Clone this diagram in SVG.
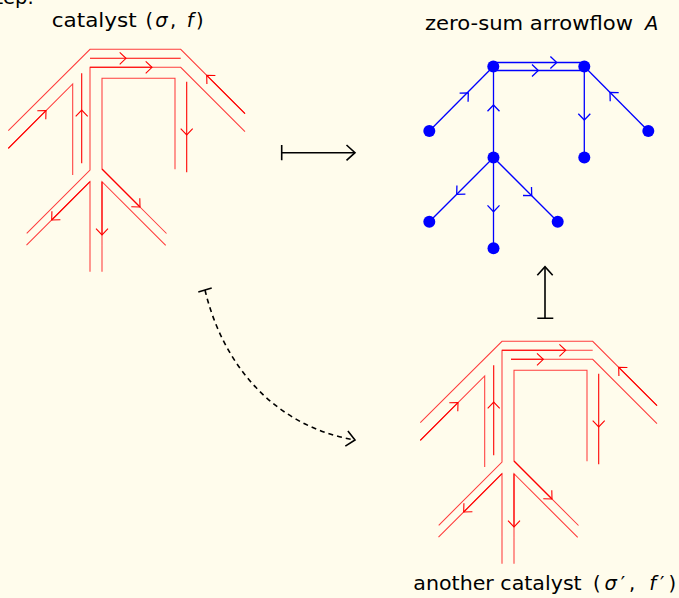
<svg xmlns="http://www.w3.org/2000/svg" xmlns:xlink="http://www.w3.org/1999/xlink" width="679" height="598" viewBox="0 0 679 598">
<style>
.bd{fill:none;stroke:#ff3c3c;stroke-width:1.05}
.st{fill:none;stroke:#ff0000;stroke-width:1.1}
.bl{fill:none;stroke:#0000ff;stroke-width:1.3}
.nd{fill:#0000ff}
.bk{fill:none;stroke:#000;stroke-width:1.6}
.t{font-family:"DejaVu Sans",sans-serif;font-size:19.5px;fill:#000}
.i{font-style:italic}
</style>
<defs>
<path id="ah" d="M-6.3,-6 L0,0 L-6.3,6" fill="none"/>
<path id="bh" d="M-8.5,-7.7 L0,0 L-8.5,7.7" fill="none"/>
</defs>
<rect width="679" height="598" fill="#fffcec"/>

<text class="t" x="-17" y="3.5">Step.</text>

<g id="catalyst1">
<path class="bd" d="M8.3,130.7 L90,49.3 L180.7,49.3 L245,113.6"/>
<path class="bd" d="M8.3,148.3 L72.7,84 L72.7,175"/>
<path class="bd" d="M26.7,233.3 L90,170 L90,67.3 L180.7,67.3 L245,131.6"/>
<path class="bd" d="M166.5,233.5 L102,169 L102,78.3 L175,78.3 L175,169.3"/>
<path class="bd" d="M26.5,245.2 L90,181.7 L90,271.7"/>
<path class="bd" d="M102,271.7 L102,181.7 L165.7,245.4"/>
<g class="st">
<path d="M8.3,148.3 L46,110.6"/><use xlink:href="#ah" transform="translate(46,110.6) rotate(-45)"/>
<path d="M81.7,163.3 L81.7,73.3"/><use xlink:href="#ah" transform="translate(81.7,110) rotate(-90)"/>
<path d="M90,58.3 L180.7,58.3"/><use xlink:href="#ah" transform="translate(126,58.3)"/>
<path d="M90,67.3 L152,67.3"/><use xlink:href="#ah" transform="translate(152,67.3)"/>
<path d="M245,113.6 L206.7,75.3"/><use xlink:href="#ah" transform="translate(206.7,75.3) rotate(-135)"/>
<path d="M186.7,81.7 L186.7,172.3"/><use xlink:href="#ah" transform="translate(186.7,135) rotate(90)"/>
<path d="M90,181.7 L51.7,220"/><use xlink:href="#ah" transform="translate(51.7,220) rotate(135)"/>
<path d="M102,169 L140,207"/><use xlink:href="#ah" transform="translate(140,207) rotate(45)"/>
<path d="M102,181.7 L102,235"/><use xlink:href="#ah" transform="translate(102,235) rotate(90)"/>
</g>
<text class="t" x="51.7" y="26.7" textLength="85" lengthAdjust="spacingAndGlyphs">catalyst</text>
<text class="t" x="145.5" y="26.7" textLength="58" lengthAdjust="spacing">(<tspan class="i">σ</tspan>, <tspan class="i">f</tspan>)</text>
</g>

<g id="catalyst2">
<g transform="translate(412,292)">
<path class="bd" d="M8.3,130.7 L90,49.3 L180.7,49.3 L245,113.6"/>
<path class="bd" d="M8.3,148.3 L72.7,84 L72.7,175"/>
<path class="bd" d="M26.7,233.3 L90,170 L90,58.3 L180.7,58.3"/>
<path class="bd" d="M99,67.3 L180.7,67.3 L245,131.6"/>
<path class="bd" d="M166.5,233.5 L102,169 L102,78.3 L175,78.3 L175,169.3"/>
<path class="bd" d="M26.5,245.2 L90,181.7 L90,271.7"/>
<path class="bd" d="M102,271.7 L102,181.7 L165.7,245.4"/>
<g class="st">
<path d="M8.3,148.3 L46,110.6"/><use xlink:href="#ah" transform="translate(46,110.6) rotate(-45)"/>
<path d="M81.7,163.3 L81.7,73.3"/><use xlink:href="#ah" transform="translate(81.7,110) rotate(-90)"/>
<path d="M90,58.3 L153.7,58.3"/><use xlink:href="#ah" transform="translate(153.7,58.3)"/>
<path d="M99,67.3 L131.3,67.3"/><use xlink:href="#ah" transform="translate(131.3,67.3)"/>
<path d="M245,113.6 L206.7,75.3"/><use xlink:href="#ah" transform="translate(206.7,75.3) rotate(-135)"/>
<path d="M186.7,81.7 L186.7,172.3"/><use xlink:href="#ah" transform="translate(186.7,135) rotate(90)"/>
<path d="M90,181.7 L51.7,220"/><use xlink:href="#ah" transform="translate(51.7,220) rotate(135)"/>
<path d="M102,169 L140,207"/><use xlink:href="#ah" transform="translate(140,207) rotate(45)"/>
<path d="M102,181.7 L102,235"/><use xlink:href="#ah" transform="translate(102,235) rotate(90)"/>
</g>
</g>
<text class="t" x="413.3" y="590" textLength="168.4" lengthAdjust="spacingAndGlyphs">another catalyst</text>
<text class="t" x="593" y="590" textLength="83" lengthAdjust="spacing">(<tspan class="i">σ</tspan>′, <tspan class="i">f</tspan>′)</text>
</g>

<g id="arrowflow">
<g class="bl">
<path d="M429.3,131 L493.3,66.5"/><use xlink:href="#ah" transform="translate(468.3,93) rotate(-45)"/>
<path d="M493.3,62.5 L584.3,62.5"/><use xlink:href="#ah" transform="translate(556.7,62.5)"/>
<path d="M493.3,70.5 L584.3,70.5"/><use xlink:href="#ah" transform="translate(538.3,70.5)"/>
<path d="M648.3,131 L584.3,66.5"/><use xlink:href="#ah" transform="translate(610,92.5) rotate(-135)"/>
<path d="M493.5,157.5 L493.5,66.5"/><use xlink:href="#ah" transform="translate(493.5,105) rotate(-90)"/>
<path d="M584.3,66.5 L584.3,157.5"/><use xlink:href="#ah" transform="translate(584.3,120) rotate(90)"/>
<path d="M493.5,157.5 L429.3,221.7"/><use xlink:href="#ah" transform="translate(456.7,194.3) rotate(135)"/>
<path d="M493.5,157.5 L493.5,248.3"/><use xlink:href="#ah" transform="translate(493.5,211.7) rotate(90)"/>
<path d="M493.5,157.5 L557.7,221.7"/><use xlink:href="#ah" transform="translate(531.7,195.7) rotate(45)"/>
</g>
<circle class="nd" cx="493.3" cy="66.5" r="6"/>
<circle class="nd" cx="584.3" cy="66.5" r="6"/>
<circle class="nd" cx="429.3" cy="131" r="6"/>
<circle class="nd" cx="648.3" cy="131" r="6"/>
<circle class="nd" cx="493.5" cy="157.5" r="6"/>
<circle class="nd" cx="584.3" cy="157.5" r="6"/>
<circle class="nd" cx="429.3" cy="221.7" r="6"/>
<circle class="nd" cx="493.5" cy="248.3" r="6"/>
<circle class="nd" cx="557.7" cy="221.7" r="6"/>
<text class="t" x="425" y="29.5" textLength="208" lengthAdjust="spacingAndGlyphs">zero-sum arrowflow</text>
<text class="t i" x="645" y="29.5">A</text>
</g>

<g id="connectors" class="bk">
<path d="M281.7,145 L281.7,160.3 M281.7,152.7 L355,152.7"/>
<use xlink:href="#bh" transform="translate(355,152.7)"/>
<path d="M537.3,318.3 L553.3,318.3 M545,318.3 L545,266.7"/>
<use xlink:href="#bh" transform="translate(545,266.7) rotate(-90)"/>
<path d="M198.3,291.9 L211.7,288.1"/>
<path d="M205,290 C222,362 272,426 355,440" stroke-dasharray="5 4"/>
<use xlink:href="#bh" transform="translate(355,440) rotate(9.6)"/>
</g>
</svg>
